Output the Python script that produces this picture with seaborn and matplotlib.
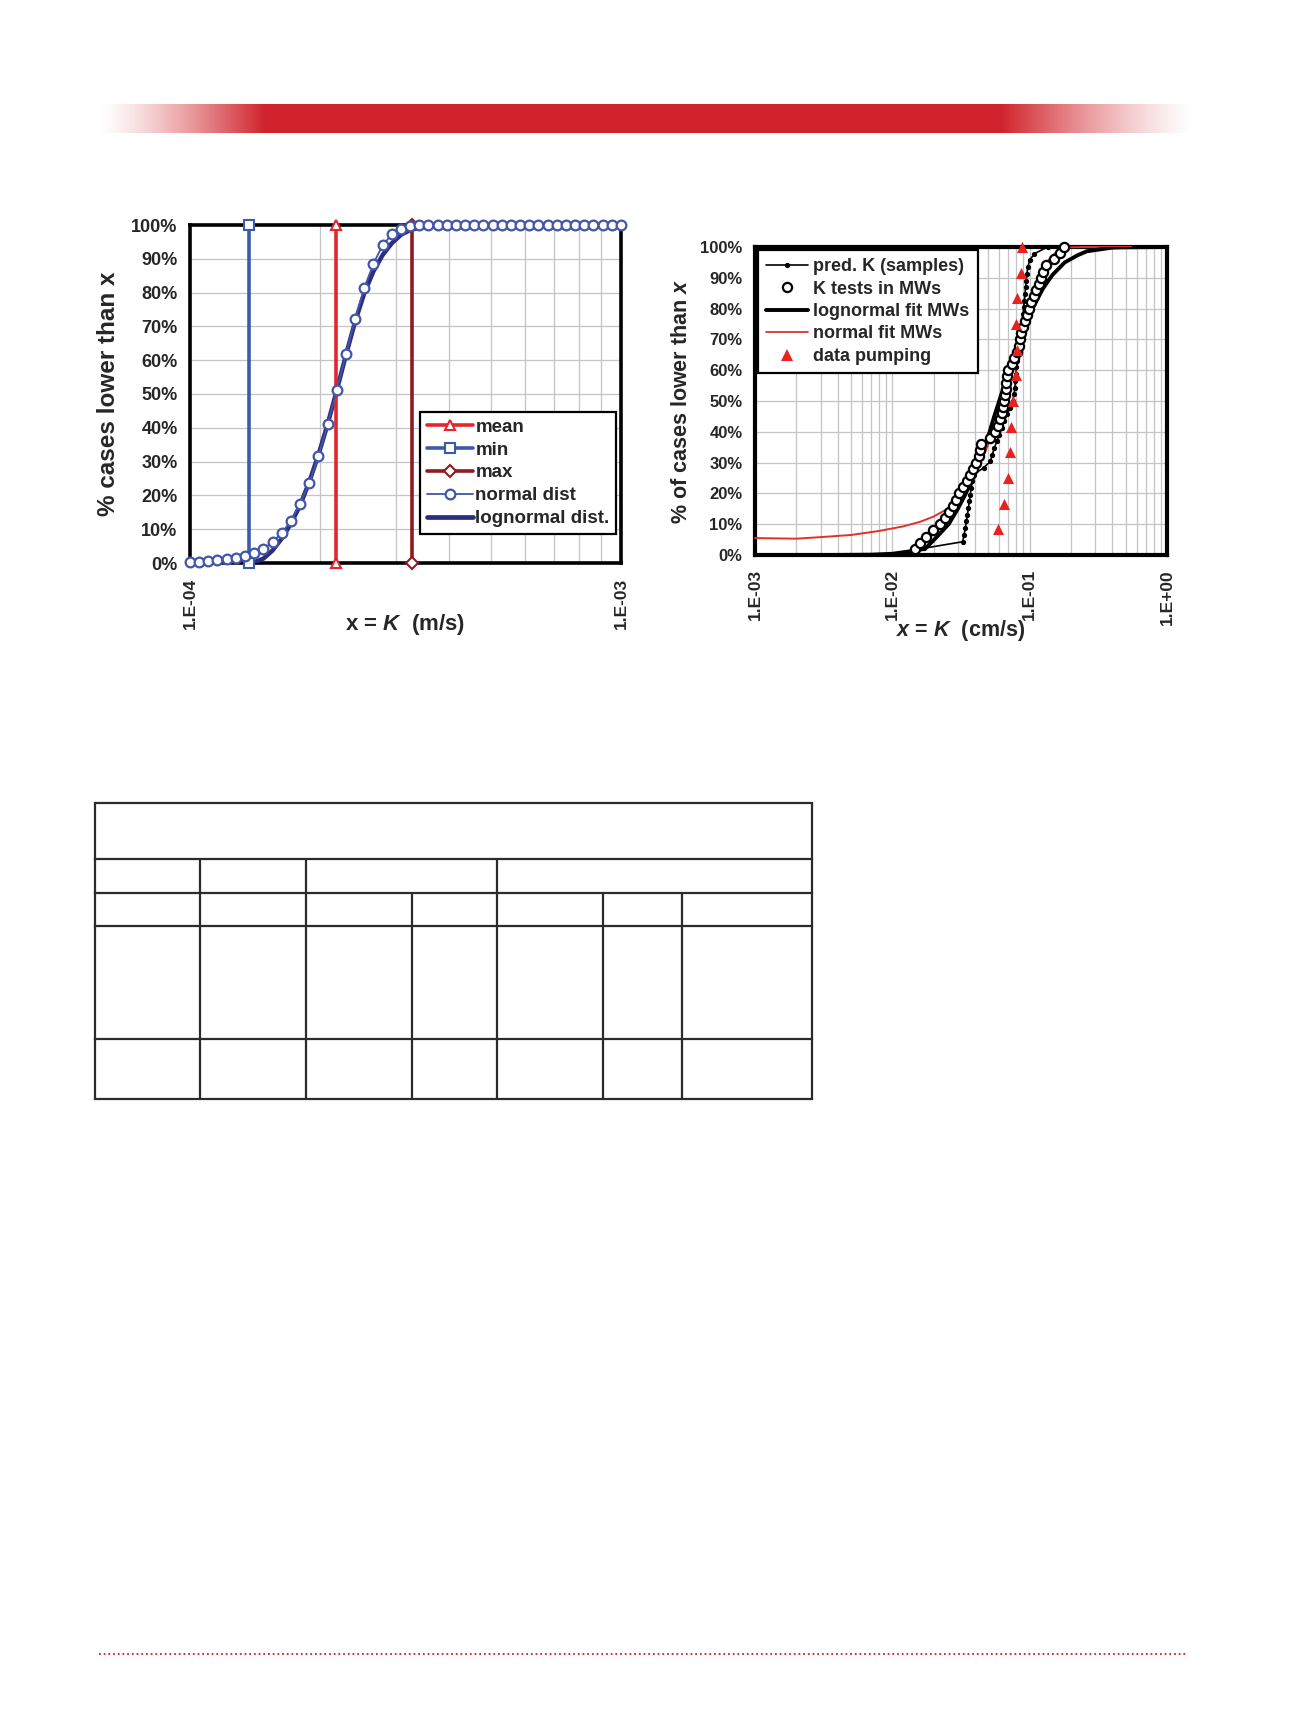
import numpy as np
import matplotlib
matplotlib.use('Agg')
import matplotlib.pyplot as plt
from matplotlib.lines import Line2D
from matplotlib.ticker import NullFormatter
import seaborn as sns

sns.set_style('white')
plt.rcParams['font.family'] = ['Liberation Sans', 'DejaVu Sans']
plt.rcParams['font.weight'] = 'bold'
plt.rcParams['mathtext.fontset'] = 'custom'
plt.rcParams['mathtext.it'] = 'Liberation Sans:italic:bold'
plt.rcParams['mathtext.rm'] = 'Liberation Sans:bold'
plt.rcParams['mathtext.bf'] = 'Liberation Sans:bold'

# ---- left chart data (K in m/s, % lower than x) ----
k_mean = 2.18e-4
k_min = 1.373e-4
k_max = 3.27e-4

norm_x = [1.000e-4, 1.050e-4, 1.103e-4, 1.158e-4, 1.216e-4, 1.277e-4, 1.342e-4, 1.409e-4,
          1.480e-4, 1.554e-4, 1.632e-4, 1.714e-4, 1.800e-4, 1.891e-4, 1.986e-4, 2.085e-4,
          2.190e-4, 2.300e-4, 2.416e-4, 2.537e-4, 2.665e-4, 2.798e-4, 2.939e-4, 3.087e-4,
          3.242e-4, 3.404e-4, 3.575e-4, 3.755e-4, 3.943e-4, 4.141e-4, 4.349e-4, 4.567e-4,
          4.797e-4, 5.037e-4, 5.290e-4, 5.556e-4, 5.835e-4, 6.128e-4, 6.435e-4, 6.758e-4,
          7.097e-4, 7.453e-4, 7.828e-4, 8.221e-4, 8.633e-4, 9.067e-4, 9.522e-4, 1.000e-3]
norm_y = [0.2, 0.4, 0.7, 0.9, 1.2, 1.5, 2.0, 3.0, 4.2, 6.2, 8.9, 12.4, 17.6, 23.7, 31.6, 41.0,
          51.1, 61.7, 72.1, 81.4, 88.6, 94.0, 97.2, 98.8, 99.7, 100, 100, 100, 100, 100, 100, 100,
          100, 100, 100, 100, 100, 100, 100, 100, 100, 100, 100, 100, 100, 100, 100, 100]

logn_x = [1.373e-4, 1.409e-4, 1.480e-4, 1.554e-4, 1.632e-4, 1.714e-4, 1.800e-4, 1.891e-4,
          1.986e-4, 2.085e-4, 2.190e-4, 2.300e-4, 2.416e-4, 2.537e-4, 2.665e-4, 2.798e-4,
          2.939e-4, 3.087e-4, 3.242e-4, 3.404e-4, 3.575e-4, 3.755e-4, 3.943e-4, 4.349e-4, 1.0e-3]
logn_y = [0, 0.2, 1.3, 3.7, 7.2, 11.6, 17.0, 24.0, 32.0, 41.0, 51.0, 61.5, 71.4, 79.8, 86.3,
          91.1, 94.6, 97.1, 98.5, 99.2, 99.6, 99.8, 99.9, 100, 100]

# ---- right chart data (K in cm/s) ----
pred_x = [0.0170, 0.0325, 0.0333, 0.0340, 0.0346, 0.0352, 0.0358, 0.0364, 0.0369, 0.0375,
          0.0382, 0.0390, 0.0462, 0.0517, 0.0535, 0.0553, 0.0578, 0.0600, 0.0625, 0.0650,
          0.0685, 0.0720, 0.0750, 0.0770, 0.0780, 0.0788, 0.0795, 0.0800, 0.0806, 0.0812,
          0.0820, 0.0830, 0.0845, 0.0862, 0.0880, 0.0895, 0.0905, 0.0915, 0.0925, 0.0935,
          0.0945, 0.0955, 0.0970, 0.1000, 0.1080, 0.1350]
pred_y = [2.2, 4.3, 6.5, 8.7, 10.9, 13.0, 15.2, 17.4, 19.6, 21.7, 23.9, 26.1, 28.3, 30.4, 32.6,
          34.8, 37.0, 39.1, 41.3, 43.5, 45.7, 47.8, 50.0, 52.2, 54.3, 56.5, 58.7, 60.9, 63.0,
          65.2, 67.4, 69.6, 71.7, 73.9, 76.1, 78.3, 80.4, 82.6, 84.8, 87.0, 89.1, 91.3, 93.5,
          95.7, 97.8, 100.0]

mw_x = [0.0147, 0.0160, 0.0177, 0.0199, 0.0224, 0.0242, 0.0258, 0.0275, 0.0290, 0.0306,
        0.0326, 0.0350, 0.0368, 0.0384, 0.0405, 0.0428, 0.0432, 0.0440, 0.0517, 0.0560,
        0.0590, 0.0612, 0.0625, 0.0638, 0.0650, 0.0657, 0.0668, 0.0678, 0.0686, 0.0695,
        0.0740, 0.0775, 0.0805, 0.0832, 0.0850, 0.0866, 0.0900, 0.0932, 0.0962, 0.0990,
        0.1025, 0.1070, 0.1120, 0.1160, 0.1200, 0.1260, 0.1320, 0.1500, 0.1660, 0.1770]
mw_y = [2, 4, 6, 8, 10, 12, 14, 16, 18, 20, 22, 24, 26, 28, 30, 32, 34, 36, 38, 40,
        42, 44, 46, 48, 50, 52, 54, 56, 58, 60, 62, 64, 66, 68, 70, 72, 74, 76, 78, 80,
        82, 84, 86, 88, 90, 92, 94, 96, 98, 100]

lfit_x = [0.001, 0.004, 0.007, 0.010, 0.013, 0.0173, 0.021, 0.0257, 0.030, 0.0343, 0.038,
          0.042, 0.050, 0.055, 0.060, 0.065, 0.070, 0.077, 0.085, 0.095, 0.1049, 0.115,
          0.125, 0.135, 0.147, 0.180, 0.223, 0.260, 0.300, 0.400, 0.500, 1.000]
lfit_y = [0, 0.02, 0.1, 0.4, 1.1, 2.0, 5.8, 10, 15, 20, 24.7, 30, 38.5, 44.8, 50, 54.8, 60,
          64.6, 71, 75.5, 80, 83.5, 86.5, 88.7, 91, 95, 97.3, 98.6, 99, 99.8, 99.9, 100]

nfit_x = [0.001, 0.002, 0.003, 0.005, 0.008, 0.012, 0.016, 0.020, 0.0265, 0.030, 0.035,
          0.040, 0.046, 0.050, 0.055, 0.060, 0.065, 0.070, 0.080, 0.090, 0.100, 0.110,
          0.120, 0.130, 0.140, 0.160, 0.180, 0.200, 0.250, 0.550]
nfit_y = [5.5, 5.3, 5.8, 6.5, 7.8, 9.3, 10.8, 12.5, 15.5, 18, 22, 26, 32, 36, 41, 46, 51,
          56, 65, 73, 80, 86, 90.5, 94, 96.3, 98.8, 99.6, 99.9, 100, 100]

pump_x = [0.0590, 0.0646, 0.0690, 0.0716, 0.0736, 0.0757, 0.0795, 0.0806, 0.0800, 0.0808,
          0.0864, 0.0876]
pump_y = [8.3, 16.7, 25.0, 33.3, 41.7, 50.0, 58.3, 66.7, 75.0, 83.3, 91.7, 100.0]

W, H = 1299, 1732
fig = plt.figure(figsize=(W / 100, H / 100), dpi=100)

# ---- page decorations ----
page = fig.add_axes([0, 0, 1, 1])
page.set_xlim(0, W)
page.set_ylim(H, 0)
page.axis('off')

bar_x = np.arange(99, 1193)
alpha = np.ones(len(bar_x))
alpha[bar_x < 264] = (bar_x[bar_x < 264] - 99) / 165.0
alpha[bar_x > 1001] = (1193 - bar_x[bar_x > 1001]) / 192.0
img = np.zeros((1, len(bar_x), 4))
img[0, :, 0] = 0.82
img[0, :, 1] = 0.14
img[0, :, 2] = 0.17
img[0, :, 3] = np.clip(alpha, 0, 1) ** 1.3
page.imshow(img, extent=[99, 1193, 133, 104], aspect='auto', interpolation='bilinear')

page.plot([99, 1188], [1654, 1654], color='#c8203a', lw=1.3, linestyle=(0, (1, 1.6)))

cols = [95, 200, 306, 412, 497, 603, 682, 812]
rows = [803, 859, 893, 926, 1039, 1099]
tc = '#2b2b2b'
for r in rows:
    page.plot([cols[0], cols[-1]], [r, r], color=tc, lw=1.6, solid_capstyle='projecting')
for c in [cols[0], cols[-1]]:
    page.plot([c, c], [rows[0], rows[-1]], color=tc, lw=1.6)
for c in [200, 306, 497]:
    page.plot([c, c], [rows[1], rows[-1]], color=tc, lw=1.6)
for c in [412, 603, 682]:
    page.plot([c, c], [rows[2], rows[-1]], color=tc, lw=1.6)

grid_c = '#c4c4c4'


def style_axes(ax, spine_w):
    for s in ax.spines.values():
        s.set_color('black')
        s.set_linewidth(spine_w)
        s.set_visible(True)
    ax.grid(True, which='both', color=grid_c, linewidth=0.9)
    ax.set_axisbelow(True)
    ax.tick_params(which='both', length=0)


# ---- left chart ----
axL = fig.add_axes([190 / W, 1 - 563 / H, 431 / W, 338 / H])
axL.set_xscale('log')

c_mean, c_min, c_max = '#e4262c', '#3b5cab', '#8e1b1f'
c_norm, c_logn = '#4255a8', '#2b2e80'

sns.lineplot(x=logn_x, y=logn_y, ax=axL, color=c_logn, linewidth=3.2,
             estimator=None, sort=False, zorder=3)
sns.lineplot(x=[k_mean, k_mean], y=[0, 100], ax=axL, color=c_mean, linewidth=2.6,
             marker='^', markersize=7.5, markerfacecolor='white', markeredgecolor=c_mean,
             markeredgewidth=1.5, estimator=None, sort=False, clip_on=False, zorder=4)
sns.lineplot(x=[k_min, k_min], y=[0, 100], ax=axL, color=c_min, linewidth=2.6,
             marker='s', markersize=7, markerfacecolor='white', markeredgecolor=c_min,
             markeredgewidth=1.5, estimator=None, sort=False, clip_on=False, zorder=4)
sns.lineplot(x=[k_max, k_max], y=[0, 100], ax=axL, color=c_max, linewidth=2.6,
             marker='D', markersize=6, markerfacecolor='white', markeredgecolor=c_max,
             markeredgewidth=1.5, estimator=None, sort=False, clip_on=False, zorder=4)
sns.lineplot(x=norm_x, y=norm_y, ax=axL, color=c_norm, linewidth=1.3,
             marker='o', markersize=7, markerfacecolor='white', markeredgecolor=c_norm,
             markeredgewidth=1.6, estimator=None, sort=False, clip_on=False, zorder=5)

axL.set_xlim(1e-4, 1e-3)
axL.set_ylim(0, 100)
axL.set_xticks([1e-4, 1e-3])
axL.set_xticklabels(['1.E-04', '1.E-03'], rotation=90, fontsize=12.5, fontweight='bold')
axL.set_xticks([2e-4, 3e-4, 4e-4, 5e-4, 6e-4, 7e-4, 8e-4, 9e-4], minor=True)
axL.xaxis.set_minor_formatter(NullFormatter())
axL.set_yticks(range(0, 101, 10))
axL.set_yticklabels([f'{v}%' for v in range(0, 101, 10)], fontsize=13, fontweight='bold')
style_axes(axL, 2.6)
axL.tick_params(axis='x', pad=11)
axL.tick_params(axis='y', pad=9)
axL.set_xlabel('x = $K$  (m/s)', fontsize=16, fontweight='bold')
axL.set_ylabel('% cases lower than x', fontsize=17.5, fontweight='bold')
axL.xaxis.set_label_coords(0.5, -0.145)
axL.yaxis.set_label_coords(-0.163, 0.5)

hL = [Line2D([], [], color=c_mean, lw=2.6, marker='^', markersize=7.5, mfc='white', mec=c_mean, mew=1.5),
      Line2D([], [], color=c_min, lw=2.6, marker='s', markersize=7, mfc='white', mec=c_min, mew=1.5),
      Line2D([], [], color=c_max, lw=2.6, marker='D', markersize=6, mfc='white', mec=c_max, mew=1.5),
      Line2D([], [], color=c_norm, lw=1.3, marker='o', markersize=7, mfc='white', mec=c_norm, mew=1.6),
      Line2D([], [], color=c_logn, lw=3.4)]
legL = axL.legend(hL, ['mean', 'min', 'max', 'normal dist', 'lognormal dist.'],
                  loc='upper left', bbox_to_anchor=(0.534, 0.447), borderaxespad=0,
                  frameon=True, fancybox=False, edgecolor='black', framealpha=1,
                  prop={'size': 13.5, 'weight': 'bold'}, handlelength=2.45, handletextpad=0.15,
                  labelspacing=0.31, borderpad=0.35)
legL.get_frame().set_linewidth(1.6)
legL.set_zorder(10)

# ---- right chart ----
axR = fig.add_axes([755 / W, 1 - 555 / H, 412 / W, 308 / H])
axR.set_xscale('log')

c_red = '#e0312b'
sns.lineplot(x=nfit_x, y=nfit_y, ax=axR, color=c_red, linewidth=1.4,
             estimator=None, sort=False, clip_on=False, zorder=2.6)
sns.lineplot(x=lfit_x, y=lfit_y, ax=axR, color='black', linewidth=2.8,
             estimator=None, sort=False, zorder=3)
sns.lineplot(x=pred_x, y=pred_y, ax=axR, color='black', linewidth=1.2, marker='o',
             markersize=3.8, markeredgewidth=0, estimator=None, sort=False,
             clip_on=False, zorder=4)
sns.scatterplot(x=mw_x, y=mw_y, ax=axR, marker='o', s=44, color='white',
                edgecolor='black', linewidth=1.6, clip_on=False, zorder=5)
sns.scatterplot(x=pump_x, y=pump_y, ax=axR, marker='^', s=64, color='#e8231f',
                edgecolor='#e8231f', linewidth=0, clip_on=False, zorder=6)

axR.set_xlim(1e-3, 1.0)
axR.set_ylim(0, 100)
axR.set_xticks([1e-3, 1e-2, 1e-1, 1.0])
axR.set_xticklabels(['1.E-03', '1.E-02', '1.E-01', '1.E+00'], rotation=90,
                    fontsize=12.5, fontweight='bold')
minor = [m * d for d in (1e-3, 1e-2, 1e-1) for m in range(2, 10)]
axR.set_xticks(minor, minor=True)
axR.xaxis.set_minor_formatter(NullFormatter())
axR.set_yticks(range(0, 101, 10))
axR.set_yticklabels([f'{v}%' for v in range(0, 101, 10)], fontsize=12, fontweight='bold')
style_axes(axR, 3.0)
axR.tick_params(axis='x', pad=10)
axR.tick_params(axis='y', pad=9)
axR.set_xlabel('$x$ = $K$  (cm/s)', fontsize=15.5, fontweight='bold')
axR.set_ylabel('% of cases lower than $x$', fontsize=15.5, fontweight='bold')
axR.xaxis.set_label_coords(0.5, -0.205)
axR.yaxis.set_label_coords(-0.152, 0.5)

hR = [Line2D([], [], color='black', lw=1.2, marker='o', markersize=3.8, mew=0),
      Line2D([], [], ls='none', marker='o', markersize=6.6, mfc='white', mec='black', mew=1.6),
      Line2D([], [], color='black', lw=2.8),
      Line2D([], [], color=c_red, lw=1.3),
      Line2D([], [], ls='none', marker='^', markersize=8.5, color='#e8231f', mew=0)]
legR = axR.legend(hR, ['pred. K (samples)', 'K tests in MWs', 'lognormal fit MWs',
                       'normal fit MWs', 'data pumping'],
                  loc='upper left', bbox_to_anchor=(0.008, 0.99), borderaxespad=0,
                  frameon=True, fancybox=False, edgecolor='black', framealpha=1,
                  prop={'size': 13, 'weight': 'bold'}, handlelength=2.3, handletextpad=0.3,
                  labelspacing=0.3, borderpad=0.45)
legR.get_frame().set_linewidth(1.6)
legR.set_zorder(10)

fig.savefig('out.png', dpi=100)
